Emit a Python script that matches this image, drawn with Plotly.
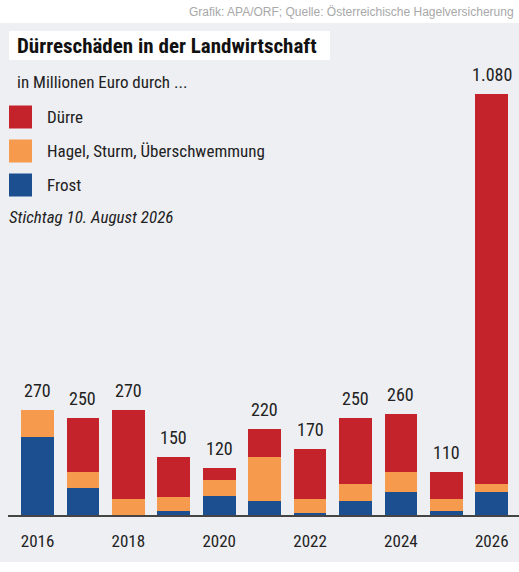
import plotly.graph_objects as go

years = [2016, 2017, 2018, 2019, 2020, 2021, 2022, 2023, 2024, 2025, 2026]
frost = [200, 70, 0, 10, 50, 35, 5, 35, 60, 10, 60]
hagel = [70, 40, 40, 35, 40, 115, 35, 45, 50, 30, 20]
duerre = [0, 140, 230, 105, 30, 70, 130, 170, 150, 70, 1000]
total_labels = ['270', '250', '270', '150', '120', '220', '170', '250', '260', '110', '1.080']
tick_years = [2016, 2018, 2020, 2022, 2024, 2026]

series = [
    ('Frost', frost, '#1b4f8f'),
    ('Hagel, Sturm, Überschwemmung', hagel, '#f69b4d'),
    ('Dürre', duerre, '#c5232c'),
]

FONT = 'Liberation Sans Narrow, Roboto Condensed, Roboto, sans-serif'
W, H = 519, 572
ML, MR, MT, MB = 8, 0, 47, 57
PW, PH = W - ML - MR, H - MT - MB


def px(x):
    return (x - ML) / PW


def py(y):
    return (H - MB - y) / PH


fig = go.Figure()
for name, vals, col in series:
    fig.add_trace(go.Bar(x=years, y=vals, name=name, marker_color=col,
                         marker_line_width=0, width=0.72, showlegend=False))

totals = [a + b + c for a, b, c in zip(frost, hagel, duerre)]
for yr, t, lab in zip(years, totals, total_labels):
    fig.add_annotation(x=yr, y=t, text=lab, showarrow=False, yanchor='bottom',
                       yshift=7, font=dict(size=18, color='#222222', family=FONT))

shapes = []
# grey panel
shapes.append(dict(type='rect', xref='paper', yref='paper', x0=px(0), x1=px(W),
                   y0=py(562), y1=py(23), fillcolor='#eeeff3', line_width=0, layer='below'))
# white title box
shapes.append(dict(type='rect', xref='paper', yref='paper', x0=px(9), x1=px(330),
                   y0=py(60), y1=py(31), fillcolor='white', line_width=0, layer='below'))

# legend
legend_rows = [('Dürre', '#c5232c', 117), ('Hagel, Sturm, Überschwemmung', '#f69b4d', 151),
               ('Frost', '#1b4f8f', 185)]
for name, col, yc in legend_rows:
    shapes.append(dict(type='rect', xref='paper', yref='paper', x0=px(9), x1=px(32),
                       y0=py(yc + 11.5), y1=py(yc - 11.5), fillcolor=col, line_width=0))
    fig.add_annotation(xref='paper', yref='paper', x=px(45), y=py(yc), text=name,
                       showarrow=False, xanchor='left', yanchor='middle',
                       font=dict(size=17, color='#222222', family=FONT))

fig.add_annotation(xref='paper', yref='paper', x=px(15), y=py(46), text='<b>Dürreschäden in der Landwirtschaft</b>',
                   showarrow=False, xanchor='left', yanchor='middle',
                   font=dict(size=21, color='#111111', family=FONT))
fig.add_annotation(xref='paper', yref='paper', x=px(15), y=py(82), text='in Millionen Euro durch ...',
                   showarrow=False, xanchor='left', yanchor='middle',
                   font=dict(size=17, color='#222222', family=FONT))
fig.add_annotation(xref='paper', yref='paper', x=px(7), y=py(217), text='<i>Stichtag 10. August 2026</i>',
                   showarrow=False, xanchor='left', yanchor='middle',
                   font=dict(size=17, color='#222222', family=FONT))
fig.add_annotation(xref='paper', yref='paper', x=px(516), y=py(12),
                   text='Grafik: APA/ORF; Quelle: Österreichische Hagelversicherung',
                   showarrow=False, xanchor='right', yanchor='middle',
                   font=dict(size=12, color='#a8a8a8', family='Liberation Sans, Arial, sans-serif'))

fig.update_layout(
    width=W, height=H, barmode='stack', bargap=0,
    margin=dict(l=ML, r=MR, t=MT, b=MB),
    paper_bgcolor='white', plot_bgcolor='rgba(0,0,0,0)',
    shapes=shapes,
    xaxis=dict(range=[2016 - 0.65, 2026 + 0.6], tickvals=tick_years, ticks='',
               showline=True, linecolor='#444444', linewidth=1.5, showgrid=False,
               zeroline=False, ticklabelstandoff=10,
               tickfont=dict(size=17, color='#222222', family=FONT)),
    yaxis=dict(range=[0, 1200], visible=False, showgrid=False, zeroline=False),
)

# drop the browser's default page margin so the figure sits at the top-left corner
fig.write_html('out.html', config={'displayModeBar': False},
               post_script="document.body.style.margin='0';document.body.style.overflow='hidden';")
